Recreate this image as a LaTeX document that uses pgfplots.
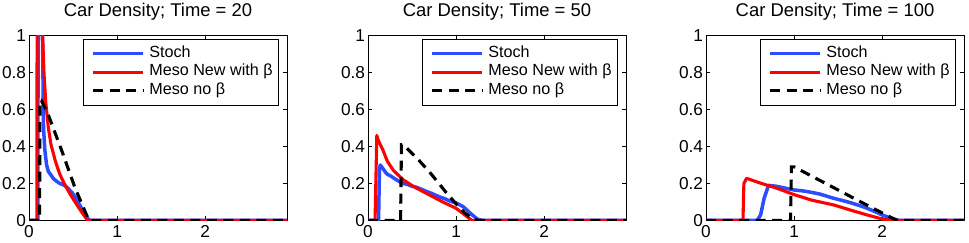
\documentclass[border=0pt]{standalone}
\usepackage{fontspec}
\setmainfont{Liberation Sans}
\usepackage{pgfplots}
\pgfplotsset{compat=1.18}
\definecolor{sblue}{RGB}{45,75,255}
\newcommand{\ff}{\fontsize{18.5}{21}\selectfont}
\newcommand{\fl}{\fontsize{17.3}{20}\selectfont}
\newcommand{\fg}{\fontsize{16.2}{19}\selectfont}
\pgfplotsset{
 panel/.style={
  at={(#1,22.5bp)}, anchor=south west, scale only axis, width=258bp, height=185bp,
  xmin=0, xmax=2.93, ymin=0, ymax=1,
  xtick={0,1,2}, xticklabels={0,1,2},
  ytick={0,0.2,0.4,0.6,0.8,1}, yticklabels={0,0.2,0.4,0.6,0.8,1},
  tick align=inside, major tick length=4bp,
  axis line style={line width=0.8bp},
  every tick/.style={line width=0.8bp, black},
  tick label style={font=\fl},
  yticklabel style={xshift=0.5bp},
  xticklabel style={yshift=-1.5bp},
  title style={anchor=base, at={(0.5,1)}, yshift=13.5bp, font=\ff},
  legend style={at={(0.969,0.981)}, anchor=north east, draw=black, line width=0.8bp,
     font=\fg, inner xsep=4bp, inner ysep=5bp, row sep=0bp,
     /tikz/every odd column/.append style={column sep=2.5bp},
     nodes={inner ysep=2bp, inner xsep=2bp, text height=11bp, text depth=3.5bp}},
  legend cell align=left,
  legend image code/.code={\path (0bp,0bp); \draw[##1] (4bp,0bp) -- (54bp,0bp);},
 },
 stoch/.style={color=sblue, line width=3.5bp, line join=round},
 meso/.style={color=red, line width=3.1bp, line join=round},
 nob/.style={color=black, line width=3.1bp, dash pattern=on 10bp off 6.5bp},
}
\begin{document}
\begin{tikzpicture}
\path[use as bounding box] (0bp,0bp) rectangle (969bp,243bp);
% Panel 1
\begin{axis}[panel=29bp, title={Car Density; Time = 20}]
\addplot[stoch] coordinates {(0,0)(0.1,0)(0.105,1.5)(0.13,1.3)(0.155,0.95)(0.16,0.72)(0.165,0.5)(0.18,0.38)(0.2,0.3)(0.22,0.265)(0.25,0.245)(0.28,0.225)(0.32,0.21)(0.35,0.2)(0.38,0.195)(0.4,0.19)(0.43,0.18)(0.46,0.165)(0.49,0.15)(0.52,0.13)(0.55,0.105)(0.58,0.08)(0.61,0.055)(0.64,0.035)(0.67,0.01)(0.69,0)(2.93,0)};
\addlegendentry{Stoch}
\addplot[meso] coordinates {(0,0)(0.09,0)(0.095,3)(0.11,2)(0.13,1.4)(0.155,1.0)(0.17,0.8)(0.19,0.64)(0.22,0.5)(0.25,0.41)(0.3,0.32)(0.35,0.25)(0.4,0.2)(0.47,0.14)(0.55,0.08)(0.62,0.03)(0.67,0)(2.93,0)};
\addlegendentry{Meso New with β}
\addplot[nob] coordinates {(0,0)(0.12,0)(0.125,0.65)(0.14,0.65)(0.22,0.57)(0.37,0.38)(0.52,0.18)(0.6,0.09)(0.68,0)(2.93,0)};
\addlegendentry{Meso no β}
\end{axis}
% Panel 2
\begin{axis}[panel=368bp, title={Car Density; Time = 50}]
\addplot[stoch] coordinates {(0,0)(0.12,0)(0.13,0.28)(0.14,0.30)(0.17,0.28)(0.2,0.26)(0.22,0.25)(0.26,0.24)(0.29,0.23)(0.34,0.215)(0.4,0.20)(0.45,0.195)(0.5,0.185)(0.55,0.18)(0.6,0.17)(0.67,0.156)(0.73,0.145)(0.8,0.13)(0.87,0.118)(0.93,0.105)(1.0,0.095)(1.08,0.075)(1.16,0.04)(1.24,0.008)(1.3,0)(2.93,0)};
\addlegendentry{Stoch}
\addplot[meso] coordinates {(0,0)(0.08,0)(0.1,0.46)(0.12,0.43)(0.17,0.38)(0.22,0.32)(0.29,0.27)(0.4,0.22)(0.53,0.18)(0.67,0.145)(0.85,0.1)(1.0,0.066)(1.1,0.03)(1.18,0)(2.93,0)};
\addlegendentry{Meso New with β}
\addplot[nob] coordinates {(0,0)(0.37,0)(0.38,0.41)(0.40,0.41)(0.57,0.33)(0.72,0.25)(0.89,0.15)(1.01,0.085)(1.1,0.04)(1.18,0.012)(1.25,0)(2.93,0)};
\addlegendentry{Meso no β}
\end{axis}
% Panel 3
\begin{axis}[panel=706bp, title={Car Density; Time = 100}]
\addplot[stoch] coordinates {(0,0)(0.58,0)(0.62,0.03)(0.66,0.12)(0.71,0.19)(0.8,0.185)(0.9,0.175)(1.0,0.165)(1.1,0.16)(1.2,0.152)(1.3,0.142)(1.45,0.12)(1.55,0.108)(1.65,0.095)(1.75,0.08)(1.83,0.066)(1.92,0.048)(2.0,0.03)(2.1,0.012)(2.2,0)(2.93,0)};
\addlegendentry{Stoch}
\addplot[meso] coordinates {(0,0)(0.42,0)(0.43,0.2)(0.46,0.228)(0.6,0.205)(0.8,0.175)(1.0,0.14)(1.2,0.11)(1.45,0.084)(1.65,0.055)(1.83,0.03)(2.0,0.008)(2.1,0)(2.93,0)};
\addlegendentry{Meso New with β}
\addplot[nob] coordinates {(0,0)(0.96,0)(0.97,0.29)(1.0,0.29)(1.3,0.215)(1.6,0.14)(1.9,0.065)(2.17,0)(2.93,0)};
\addlegendentry{Meso no β}
\end{axis}
\end{tikzpicture}
\end{document}
